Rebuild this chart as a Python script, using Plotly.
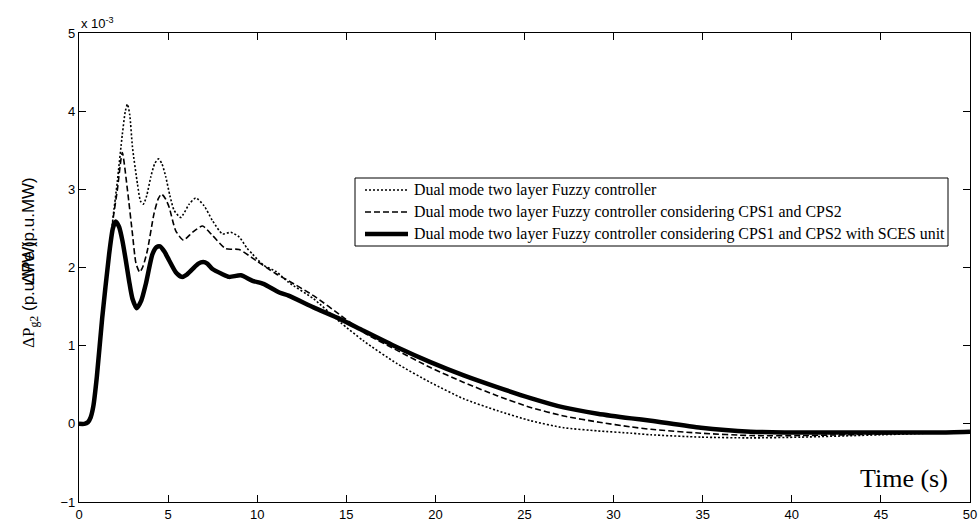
import plotly.graph_objects as go

# ---- data (values in units of 1e-3 p.u.MW) ----
t_fuzzy = [0, 0.3, 0.5, 0.65, 0.8, 1.0, 1.3, 1.69, 1.9, 2.15, 2.43, 2.6, 2.72, 2.85, 3.0, 3.28,
           3.45, 3.61, 3.8, 4.03, 4.25, 4.46, 4.65, 4.87, 5.1, 5.34, 5.71, 6.18, 6.55, 7.02,
           7.49, 8.05, 8.52, 8.99, 9.42, 9.74, 10.35, 11.05, 11.76, 13.16, 14.66, 15.97,
           17.85, 19.72, 21.59, 23.46, 25.34, 27.2, 29.1, 31, 32.1, 34.9, 37.7, 40.5, 45, 50]
v_fuzzy = [0, 0, 0.02, 0.08, 0.22, 0.6, 1.35, 2.17, 2.62, 3.1, 3.7, 4.0, 4.09, 3.95, 3.54, 3.07,
           2.85, 2.81, 2.92, 3.16, 3.33, 3.39, 3.33, 3.16, 2.92, 2.73, 2.64, 2.81, 2.89, 2.79,
           2.60, 2.43, 2.45, 2.39, 2.25, 2.17, 2.03, 1.95, 1.81, 1.60, 1.30, 1.06,
           0.77, 0.53, 0.32, 0.17, 0.04, -0.05, -0.09, -0.12, -0.14, -0.17, -0.18, -0.17, -0.14, -0.10]

t_cps = [0, 0.3, 0.5, 0.65, 0.8, 1.0, 1.3, 1.69, 1.9, 2.15, 2.43, 2.72, 3.0, 3.2, 3.41, 3.6,
         3.84, 4.21, 4.45, 4.63, 4.85, 5.06, 5.43, 5.86, 6.37, 6.93, 7.49, 8.24, 8.99, 9.93,
         11.05, 11.76, 13.16, 14.85, 15.97, 17.85, 19.72, 21.59, 23.46, 25.34, 27.2, 29.2,
         31, 32.1, 34.9, 37.7, 40.5, 45, 50]
v_cps = [0, 0, 0.02, 0.08, 0.22, 0.6, 1.35, 2.17, 2.6, 2.99, 3.47, 2.99, 2.43, 2.05, 1.94, 2.02,
         2.22, 2.69, 2.88, 2.94, 2.88, 2.77, 2.47, 2.35, 2.45, 2.53, 2.41, 2.24, 2.23, 2.09,
         1.92, 1.83, 1.64, 1.36, 1.17, 0.94, 0.72, 0.53, 0.36, 0.21, 0.10, 0.02,
         -0.04, -0.07, -0.12, -0.15, -0.15, -0.13, -0.10]

t_sces = [0, 0.3, 0.5, 0.65, 0.8, 1.0, 1.3, 1.69, 1.9, 2.06, 2.25, 2.43, 2.62, 2.81, 3.0, 3.24,
          3.5, 3.75, 4.12, 4.35, 4.55, 4.8, 5.06, 5.43, 5.77, 6.05, 6.37, 6.7, 6.97, 7.2, 7.49,
          8.0, 8.43, 9.08, 9.74, 10.35, 11.24, 11.76, 13.16, 14.66, 15.97, 17.85, 19.72,
          21.59, 23.46, 25.34, 27.2, 29.1, 31, 32.1, 34.9, 37.7, 39.6, 45, 48.2, 50]
v_sces = [0, 0, 0.02, 0.08, 0.22, 0.6, 1.35, 2.17, 2.5, 2.59, 2.52, 2.35, 2.1, 1.83, 1.6, 1.48,
          1.58, 1.79, 2.17, 2.26, 2.27, 2.2, 2.09, 1.94, 1.88, 1.91, 1.98, 2.05, 2.07, 2.05, 1.98,
          1.92, 1.88, 1.90, 1.83, 1.79, 1.68, 1.64, 1.49, 1.34, 1.19, 0.98, 0.79,
          0.62, 0.47, 0.33, 0.21, 0.13, 0.07, 0.04, -0.05, -0.10, -0.11, -0.11, -0.11, -0.10]

names = ["Dual mode two layer Fuzzy controller",
         "Dual mode two layer Fuzzy controller considering CPS1 and CPS2",
         "Dual mode two layer Fuzzy controller considering CPS1 and CPS2 with SCES unit"]

x_ticks = [0, 5, 10, 15, 20, 25, 30, 35, 40, 45, 50]
y_ticks = [-1, 0, 1, 2, 3, 4, 5]

styles = [dict(color="black", width=1.6, dash="2px,2px"),
          dict(color="black", width=1.6, dash="6px,3px"),
          dict(color="black", width=4.5)]

fig = go.Figure()
for tt, vv, nm, st in zip([t_fuzzy, t_cps, t_sces], [v_fuzzy, v_cps, v_sces], names, styles):
    fig.add_trace(go.Scatter(x=tt, y=vv, mode="lines", name=nm, showlegend=False,
                             line=dict(shape="spline", smoothing=0.6, **st)))

axis_common = dict(showgrid=False, zeroline=False, showline=True, linecolor="black", linewidth=1.3,
                   mirror="ticks", ticks="inside", ticklen=7, tickwidth=1, tickcolor="black",
                   automargin=False,
                   tickfont=dict(family="Liberation Sans, Arial", size=13, color="black"))

fig.update_xaxes(range=[0, 50], tickmode="array", tickvals=x_ticks, **axis_common)
fig.update_yaxes(range=[-1, 5], tickmode="array", tickvals=y_ticks, **axis_common)

# ---- legend box drawn in paper coordinates (plot area: x 79..970, y 33..502 px) ----
L, R, T, B = 79.0, 970.0, 33.0, 502.0
def px(xp):
    return (xp - L) / (R - L)
def py(yp):
    return (B - yp) / (B - T)

box_x0, box_x1, box_y0, box_y1 = 355, 948, 178, 246
row_y = [190, 212, 234]
sample_x0, sample_x1, text_x = 365, 408, 412

shapes = [dict(type="rect", xref="paper", yref="paper", x0=px(box_x0), x1=px(box_x1),
               y0=py(box_y1), y1=py(box_y0), line=dict(color="black", width=1),
               fillcolor="white", layer="above")]
annotations = []
for ry, nm, st in zip(row_y, names, styles):
    shapes.append(dict(type="line", xref="paper", yref="paper", x0=px(sample_x0), x1=px(sample_x1),
                       y0=py(ry), y1=py(ry), line=st, layer="above"))
    annotations.append(dict(text=nm, xref="paper", yref="paper", x=px(text_x), y=py(ry),
                            xanchor="left", yanchor="middle", showarrow=False,
                            font=dict(family="Liberation Serif, Times New Roman", size=15.9,
                                      color="black")))

annotations += [
    dict(text="x 10<sup>-3</sup>", xref="paper", yref="paper", x=0, y=1, xanchor="left",
         yanchor="bottom", showarrow=False, yshift=0,
         font=dict(family="Liberation Sans, Arial", size=13, color="black")),
    dict(text="Time (s)", xref="paper", yref="paper", x=px(950), y=py(478), xanchor="right",
         yanchor="middle", showarrow=False,
         font=dict(family="Liberation Serif, Times New Roman", size=26, color="black")),
    dict(text="<span style='font-family:Liberation Serif'>ΔP<sub>g2</sub></span> (p.u.MW)",
         xref="paper", yref="paper", x=px(30), y=py(295), xanchor="center", yanchor="middle",
         textangle=-90, showarrow=False,
         font=dict(family="Liberation Sans, Arial", size=17, color="black")),
    dict(text="ΔPe (p.u.MW)",
         xref="paper", yref="paper", x=px(28), y=py(231), xanchor="center", yanchor="middle",
         textangle=-90, showarrow=False,
         font=dict(family="Liberation Sans, Arial", size=17, color="black")),
]

fig.update_layout(
    width=979, height=523,
    margin=dict(l=79, r=9, t=33, b=21, autoexpand=False),
    paper_bgcolor="white", plot_bgcolor="white",
    showlegend=False,
    shapes=shapes,
    annotations=annotations,
)

fig.write_html("out.html", config={"displayModeBar": False},
               post_script="document.body.style.margin='0px';")
